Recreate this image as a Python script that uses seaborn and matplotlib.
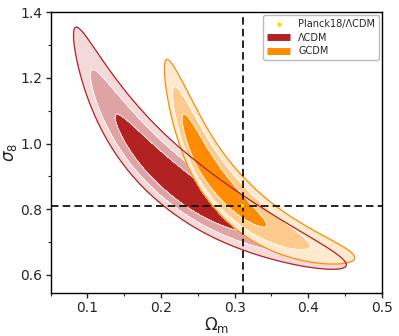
import numpy as np
import matplotlib
matplotlib.use("Agg")
import matplotlib.pyplot as plt
from matplotlib.lines import Line2D
import seaborn as sns

# Planck 2018 reference point
planck_om = 0.3111
planck_s8 = 0.8102

# ridge of each banana (Omega_m, sigma_8)
lcdm_ridge_om = [0.081, 0.185, 0.452]
lcdm_ridge_s8 = [1.331, 0.953, 0.630]
gcdm_ridge_om = [0.204, 0.262, 0.4645]
gcdm_ridge_s8 = [1.232, 0.935, 0.651]

# Omega_m edges: outer low, inner low, inner high, outer high
lcdm_om_edges = [0.081, 0.1375, 0.325, 0.452]
gcdm_om_edges = [0.204, 0.228, 0.345, 0.4645]

# spread across the ridge (in ln sigma_8)
lcdm_width = 0.036
gcdm_width = 0.034

levels = [1.7, 2.6, 3.4]

lcdm_colors = ["#b22222", "#dfa3a3", "#f3d9d9"]
gcdm_colors = ["#ff8c00", "#ffcb8c", "#ffeacf"]


def banana(om, s8, ridge_om, ridge_s8, edges, width):
    u = np.log(om)
    v = np.log(s8)
    coef = np.polyfit(np.log(ridge_om), np.log(ridge_s8), 2)
    v_r = np.polyval(coef, u)
    le = np.log(edges)
    sig_lo = (le[1] - le[0]) / (levels[2] - levels[0])
    sig_hi = (le[3] - le[2]) / (levels[2] - levels[0])
    c = 0.5 * ((le[1] + levels[0] * sig_lo) + (le[2] - levels[0] * sig_hi))
    t = np.where(u < c, (u - c) / sig_lo, (u - c) / sig_hi)
    d = (v - v_r) / width
    return np.sqrt(t ** 2 + d ** 2)


def main():
    sns.set_style("ticks")
    plt.rcParams["font.family"] = ["DejaVu Sans"]

    om = np.linspace(0.05, 0.5, 700)
    s8 = np.linspace(0.545, 1.4, 700)
    OM, S8 = np.meshgrid(om, s8)

    r_l = banana(OM, S8, lcdm_ridge_om, lcdm_ridge_s8, lcdm_om_edges, lcdm_width)
    r_g = banana(OM, S8, gcdm_ridge_om, gcdm_ridge_s8, gcdm_om_edges, gcdm_width)

    fig = plt.figure(figsize=(3.99, 3.36), dpi=100)
    ax = fig.add_axes([0.127, 0.129, 0.83, 0.834])

    ax.contourf(OM, S8, r_l, levels=[0] + levels, colors=lcdm_colors, zorder=1)
    ax.contour(OM, S8, r_l, levels=levels[:2], colors="white", linewidths=0.8,
               alpha=0.6, zorder=1.5)
    ax.contourf(OM, S8, r_g, levels=[0] + levels, colors=gcdm_colors, zorder=2)
    ax.contour(OM, S8, r_g, levels=levels[:2], colors="white", linewidths=0.8,
               alpha=0.6, zorder=2.5)
    ax.contour(OM, S8, r_g, levels=[levels[2]], colors=gcdm_colors[0],
               linewidths=0.9, zorder=3)
    ax.contour(OM, S8, r_l, levels=[levels[2]], colors=lcdm_colors[0],
               linewidths=0.9, zorder=3.5)

    ax.axvline(planck_om, color="black", ls=(0, (4.5, 2.5)), lw=1.2, zorder=4)
    ax.axhline(planck_s8, color="black", ls=(0, (4.5, 2.5)), lw=1.2, zorder=4)
    sns.scatterplot(x=[planck_om], y=[planck_s8], color="gold", s=8,
                    edgecolor="none", zorder=5, ax=ax)

    ax.set_xlim(0.05, 0.5)
    ax.set_ylim(0.545, 1.4)
    ax.set_xticks([0.1, 0.2, 0.3, 0.4, 0.5])
    ax.set_xticks(np.arange(0.05, 0.5, 0.05), minor=True)
    ax.set_yticks([0.6, 0.8, 1.0, 1.2, 1.4])
    ax.set_yticks(np.arange(0.6, 1.4, 0.1), minor=True)
    ax.tick_params(which="major", direction="out", length=3.5, width=1,
                   labelsize=10, top=False, right=False, pad=2.5)
    ax.tick_params(which="minor", direction="out", length=2, width=0.8,
                   top=False, right=False)
    for sp in ax.spines.values():
        sp.set_color("black")
        sp.set_linewidth(1)

    ax.set_xlabel(r"$\Omega_{\rm m}$", fontsize=12, labelpad=0)
    ax.set_ylabel(r"$\sigma_8$", fontsize=12, labelpad=1)

    handles = [
        Line2D([], [], marker="o", color="gold", ls="none", markersize=2.2),
        Line2D([], [], color=lcdm_colors[0], lw=5, solid_capstyle="butt"),
        Line2D([], [], color=gcdm_colors[0], lw=5, solid_capstyle="butt"),
    ]
    ax.legend(handles, ["Planck18/ΛCDM", "ΛCDM", "GCDM"], loc="upper right",
              fontsize=7, handlelength=2.4, borderaxespad=0.3,
              labelspacing=0.35, frameon=True, framealpha=1,
              edgecolor="#bbbbbb", fancybox=True)

    fig.savefig("out.png", dpi=100)


if __name__ == "__main__":
    main()
